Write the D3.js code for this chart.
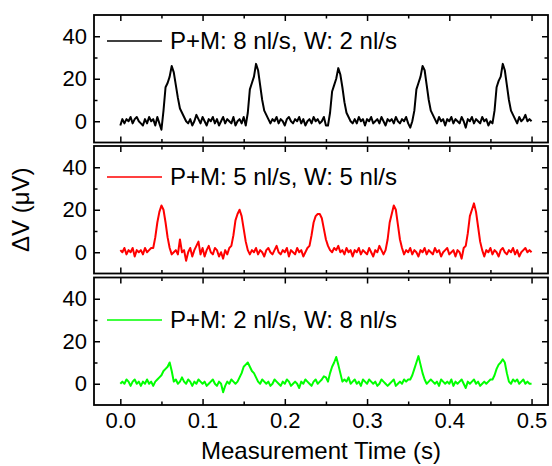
<!DOCTYPE html>
<html>
<head>
<meta charset="utf-8">
<script src="https://cdn.jsdelivr.net/npm/d3@7"></script>
<style>
  body { margin: 0; background: #fff; }
  svg { display: block; font-family: "Liberation Sans", Arial, sans-serif; }
</style>
</head>
<body>
<svg width="552" height="466"></svg>
<script>
"use strict";

// sample spacing of the recorded traces (s)
const sampleStep = 0.0025;

const labels = ['P+M: 8 nl/s, W: 2 nl/s', 'P+M: 5 nl/s, W: 5 nl/s', 'P+M: 2 nl/s, W: 8 nl/s'];
const colors = ['#000000', '#ff0000', '#00ff00'];

// ΔV (µV), one value per sample
const trace8w2 = [
  -2, 1, -1, 1, 0, 2, -1, 1, 2, 0, -1, -2, 1, -1, 2, 0, 1, -2, 2, -1,
  -4, 5, 16, 18, 21, 26, 23, 17, 11, 6, 4, 2, 0,
  -1, 1, -2, 0, 3, 1, -1, 2, 0, -2, 1, 0, 2, -1, 1, -2, 0, 2, -1, 1, 0, -1, 2, -2, 0, 1, -1, 2,
  -2, 4, 15, 18, 21, 27, 24, 17, 10, 5, 3, 1, -1,
  1, 0, 2, -1, 1, 0, -2, 1, 2, 0, -1, 1, 0, 2, -1, 1, -2, 0, 1, -1, 2, 0, 1, -1, 0, 2, -2,
  -2, 4, 14, 17, 20, 25, 22, 16, 9, 4, 2, 0, -1,
  1, -1, 2, 0, 1, -2, 1, 0, 2, -1, 0, 1, -1, 2, 0, -2, 1, 0, 1, -1, 2, 0, -1, 1, 0, 2, -1, -3,
  0, 5, 15, 18, 21, 26, 24, 17, 10, 5, 3, 1, -1,
  2, 0, 1, -2, 1, 0, 2, -1, 1, 0, -1, 2, 0, -3, 1, 0, 2, -1, 1, 0, -1, 2, 0, 1, -2, 0,
  -1, 5, 16, 19, 21, 27, 24, 17, 10, 5, 3, 1,
  -1, 2, 0, 1, 3, 0, 1, 0
];

const trace5w5 = [
  1, 0, 2, -1, 1, 0, 2, -2, 1, 0, 1, -1, 2, 0, 1, 2,
  2, 7, 14, 19, 22, 20, 14, 7, 2, -1,
  0, 1, -1, 6, 0, 1, -4, 0, 2, -2, 1, 3, 5, -1, 2, -2, 1, 3, 0, -1, 2, 1, -2, 0, -3, 1, -1, 2,
  3, 8, 15, 18, 20, 17, 11, 5, 1, -1,
  1, 0, 2, -1, 1, 0, -2, 1, 2, 0, -1, 1, 3, 0, -1, 1, 0, 2, -2, 1, 0, -1, 2, 0, 1, -2, 0, 2,
  3, 8, 14, 17, 18, 18, 16, 11, 6, 3, 1,
  0, 2, 1, 3, 0, 1, -1, 2, 0, 1, -2, 1, 0, 2, -1, 1, 0, -1, 2, 0, -2, 1, 0, 3, 1, -1,
  1, 6, 14, 18, 22, 20, 13, 6, 2, -1,
  1, 0, 2, -1, 1, 0, -2, 1, 0, 2, -1, 1, 0, -1, 2, 0, 1, -2, 0, 1, 2, -1, 0, 1, -2, 1, 0, -3, 2,
  3, 9, 17, 20, 23, 19, 12, 5, 1, -2,
  1, 0, 2, -1, 1, 0, -2, 1, 2, 0, -1, 1, 0, 2, -1, 1, -2, 0, 1, 2, 0, 1, 0
];

const trace2w8 = [
  0, 1, 0, 2, 1, -1, 1, 2, 0, 1, -1, 1, 0, 2, 0, 1, -1,
  1, 2, 3, 4, 6, 7, 8, 10, 6, 1,
  2, 0, 1, 3, 1, 0, 2, 1, -1, 1, 0, 2, 1, 0, 1, -1, 0, 1, 2, 0, -1, 1, 0, -4, -1, 1, 0, 2, 1, 0,
  1, 3, 5, 8, 9, 10, 8, 6, 5, 3, 1,
  0, 2, 1, 0, 1, -1, 0, 2, 1, 0, -1, 1, 0, 2, 1, -1, 0, 1, 0, -2, 1, 0, 2, 1, 0, -1, 1, 2, 0, 1, 2,
  3.5, 3, 1, 5, 8, 10, 12.6, 9, 5, 1,
  2, 1, 3, 0, 1, 2, 0, 1, -1, 2, 1, 0, 2, 1, 0, 1, -1, 0, 2, 1, 0, -1, 0, 1, 2, -1, 0, 1, 0, 2, 1, 2,
  2, 4, 7, 10, 13, 9, 5, 2,
  0, 1, 2, 1, 0, 1, -1, 2, 1, 0, 1, 0, 2, -1, 1, 0, 1, 2, 0, -2, 1, 0, 1, 2, 0, 1, -1, 0, 1, 0, 1, 2,
  2, 4, 7, 9, 10, 11.5, 10, 5, 1,
  0, 2, 1, 2, 0, 1, 2, 0, 1, 0, 0
];

const traces = [trace8w2, trace5w5, trace2w8];

const xMajorTicks = [0, 0.1, 0.2, 0.3, 0.4, 0.5];
const xMinorTicks = [0.05, 0.15, 0.25, 0.35, 0.45];
const yMajorTicks = [0, 20, 40];
const yMinorTicks = [10, 30];

// layout
const svg = d3.select('svg');
const left = 94;
const right = 548;
const panelTops = [15, 146, 277.5];
const panelHeight = 127.5;
const legendOffsets = [26, 31, 42.5];

const x = d3.scaleLinear()
    .domain([-0.032, 0.52])
    .range([left, right]);

const y = d3.scaleLinear()
    .domain([-10, 50])
    .range([panelHeight, 0]);

const line = d3.line()
    .x((d, i) => x(i * sampleStep))
    .y(d => y(d));

traces.forEach((trace, k) => {
    const g = svg.append('g')
        .attr('transform', `translate(0, ${panelTops[k]})`);

    g.append('path')
        .datum(trace)
        .attr('fill', 'none')
        .attr('stroke', colors[k])
        .attr('stroke-width', 2)
        .attr('stroke-linejoin', 'round')
        .attr('d', line);

    // frame
    g.append('rect')
        .attr('x', left)
        .attr('y', 0)
        .attr('width', right - left)
        .attr('height', panelHeight)
        .attr('fill', 'none')
        .attr('stroke', 'black')
        .attr('stroke-width', 1.8);

    const isLast = k === traces.length - 1;

    // x ticks, pointing inward on top and bottom
    const bottom = g.append('g')
        .attr('transform', `translate(0, ${panelHeight})`)
        .call(d3.axisBottom(x).tickValues(xMajorTicks).tickSize(-6).tickPadding(7)
            .tickFormat(isLast ? d3.format('.1f') : () => ''));
    bottom.append('g')
        .call(d3.axisBottom(x).tickValues(xMinorTicks).tickSize(-3.5).tickFormat(''));

    const top = g.append('g')
        .call(d3.axisTop(x).tickValues(xMajorTicks).tickSize(-6).tickFormat(''));
    top.append('g')
        .call(d3.axisTop(x).tickValues(xMinorTicks).tickSize(-3.5).tickFormat(''));

    // y ticks, inward on both sides
    const leftAxis = g.append('g')
        .attr('transform', `translate(${left}, 0)`)
        .call(d3.axisLeft(y).tickValues(yMajorTicks).tickSize(-6).tickPadding(7));
    leftAxis.append('g')
        .call(d3.axisLeft(y).tickValues(yMinorTicks).tickSize(-3.5).tickFormat(''));

    const rightAxis = g.append('g')
        .attr('transform', `translate(${right}, 0)`)
        .call(d3.axisRight(y).tickValues(yMajorTicks).tickSize(-6).tickFormat(''));
    rightAxis.append('g')
        .call(d3.axisRight(y).tickValues(yMinorTicks).tickSize(-3.5).tickFormat(''));

    g.selectAll('.domain').remove();
    g.selectAll('.tick line').attr('stroke', 'black').attr('stroke-width', 1.5);
    g.selectAll('.tick text')
        .attr('fill', 'black')
        .style('font-family', '"Liberation Sans", Arial, sans-serif')
        .style('font-size', '22px');

    // legend
    const ly = legendOffsets[k];
    g.append('line')
        .attr('x1', 107).attr('x2', 162)
        .attr('y1', ly).attr('y2', ly)
        .attr('stroke', colors[k])
        .attr('stroke-width', 1.7);
    g.append('text')
        .attr('x', 170)
        .attr('y', ly)
        .attr('dy', '0.35em')
        .style('font-size', '24px')
        .text(labels[k]);
});

svg.append('text')
    .attr('x', (left + right) / 2)
    .attr('y', 459)
    .attr('text-anchor', 'middle')
    .style('font-size', '24px')
    .text('Measurement Time (s)');

svg.append('text')
    .attr('transform', `translate(29, ${panelTops[1] + panelHeight / 2}) rotate(-90)`)
    .attr('text-anchor', 'middle')
    .style('font-size', '24px')
    .text('ΔV (μV)');
</script>
</body>
</html>
